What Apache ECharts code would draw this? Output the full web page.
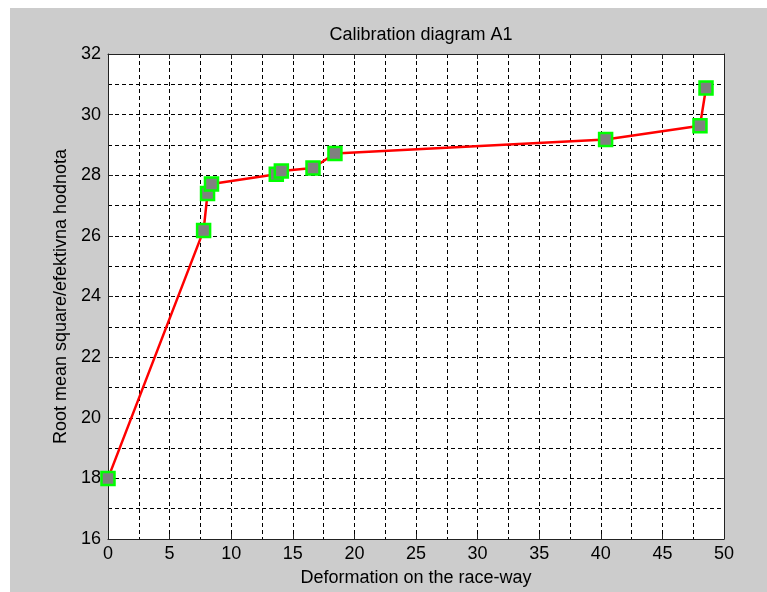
<!DOCTYPE html>
<html>
<head>
<meta charset="utf-8">
<script src="https://cdn.jsdelivr.net/npm/echarts@6/dist/echarts.min.js"></script>
<style>html,body{margin:0;padding:0;background:#fff}#c{width:767px;height:592px}</style>
</head>
<body>
<div id="c"></div>
<script>
var titleText = 'Calibration diagram A1';
var xName = 'Deformation on the race-way';
var yName = 'Root mean square/efektivna hodnota';
var xValues = [0, 7.76, 8.08, 8.4, 13.66, 14.07, 16.64, 18.42, 40.39, 48.05, 48.54];
var yValues = [18.0, 26.18, 27.4, 27.71, 28.03, 28.14, 28.24, 28.72, 29.18, 29.63, 30.88];

var data = xValues.map(function (x, i) { return [x, yValues[i]]; });
var FONT = 'Liberation Sans, Arial, sans-serif';
var FS = 18;
var dash = [4, 3];

var chart = echarts.init(document.getElementById('c'), null, {renderer: 'canvas'});
chart.setOption({
  backgroundColor: '#cccccc',
  animation: false,
  graphic: [
    {type: 'rect', shape: {x: 0, y: 0, width: 767, height: 8}, style: {fill: '#ffffff'}, z: -10},
    {type: 'rect', shape: {x: 0, y: 0, width: 10, height: 592}, style: {fill: '#ffffff'}, z: -10}
  ],
  title: {
    text: titleText,
    left: 416,
    textAlign: 'center',
    top: 21,
    textStyle: {fontFamily: FONT, fontSize: FS, fontWeight: 'normal', color: '#000'}
  },
  grid: {left: 108, top: 54, right: 43, bottom: 53, show: true, backgroundColor: '#ffffff', borderWidth: 0, outerBoundsMode: 'none', containLabel: false},
  xAxis: [{
    type: 'value', min: 0, max: 50, interval: 5,
    name: xName, nameLocation: 'middle', nameGap: 30,
    nameTextStyle: {fontFamily: FONT, fontSize: FS, color: '#000'},
    axisLine: {show: true, onZero: false, lineStyle: {color: '#222', width: 1}},
    axisTick: {show: true, inside: true, length: 5, lineStyle: {color: '#222'}},
    axisLabel: {fontFamily: FONT, fontSize: FS, color: '#000', margin: 6},
    splitLine: {show: true, lineStyle: {color: '#000', type: dash, width: 1}},
    minorTick: {show: false, splitNumber: 2},
    minorSplitLine: {show: true, lineStyle: {color: '#000', type: dash, width: 1}}
  }, {
    type: 'value', min: 0, max: 50, interval: 5, position: 'top',
    axisLine: {show: true, onZero: false, lineStyle: {color: '#222', width: 1}},
    axisTick: {show: true, inside: true, length: 5, lineStyle: {color: '#222'}},
    axisLabel: {show: false}, splitLine: {show: false}
  }],
  yAxis: [{
    type: 'value', min: 16, max: 32, interval: 2,
    name: yName, nameLocation: 'middle', nameGap: 37, nameRotate: 90,
    nameTextStyle: {fontFamily: FONT, fontSize: FS, color: '#000'},
    axisLine: {show: true, onZero: false, lineStyle: {color: '#222', width: 1}},
    axisTick: {show: true, inside: true, length: 5, lineStyle: {color: '#222'}},
    axisLabel: {fontFamily: FONT, fontSize: FS, color: '#000', margin: 7},
    splitLine: {show: true, lineStyle: {color: '#000', type: dash, width: 1}},
    minorTick: {show: false, splitNumber: 2},
    minorSplitLine: {show: true, lineStyle: {color: '#000', type: dash, width: 1}}
  }, {
    type: 'value', min: 16, max: 32, interval: 2, position: 'right',
    axisLine: {show: true, onZero: false, lineStyle: {color: '#222', width: 1}},
    axisTick: {show: true, inside: true, length: 5, lineStyle: {color: '#222'}},
    axisLabel: {show: false}, splitLine: {show: false}
  }],
  series: [{
    type: 'line',
    data: data,
    xAxisIndex: 0, yAxisIndex: 0,
    symbol: 'rect', symbolSize: 13, showAllSymbol: true,
    lineStyle: {color: '#ff0000', width: 2.5},
    itemStyle: {color: '#808080', borderColor: '#00ff00', borderWidth: 2.5},
    clip: false,
    z: 5
  }]
});
</script>
</body>
</html>
